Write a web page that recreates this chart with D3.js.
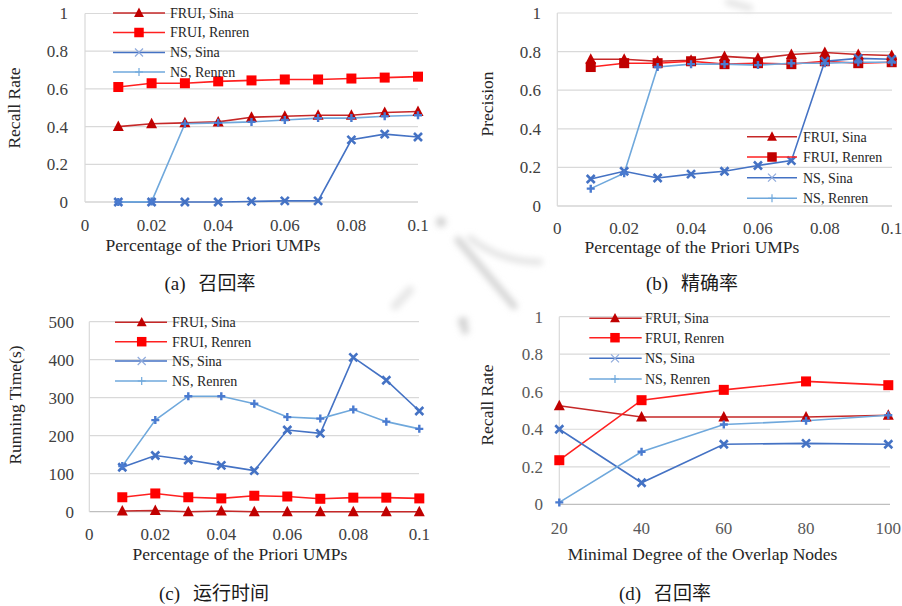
<!DOCTYPE html>
<html><head><meta charset="utf-8">
<script src="https://cdn.jsdelivr.net/npm/d3@7"></script>
<style>body{margin:0;background:#fff} svg{display:block}</style>
</head><body><svg id="c" width="902" height="606"></svg>
<script>
// ---------- data ----------
const seriesNames = ["FRUI, Sina", "FRUI, Renren", "NS, Sina", "NS, Renren"];
const pctX = [0.01, 0.02, 0.03, 0.04, 0.05, 0.06, 0.07, 0.08, 0.09, 0.1];
const pctTicks = [0, 0.02, 0.04, 0.06, 0.08, 0.1];
const pctTickLabels = ["0", "0.02", "0.04", "0.06", "0.08", "0.1"];
const rateTicks = [0, 0.2, 0.4, 0.6, 0.8, 1];
const rateTickLabels = ["0", "0.2", "0.4", "0.6", "0.8", "1"];
const timeTicks = [0, 100, 200, 300, 400, 500];
const timeTickLabels = ["0", "100", "200", "300", "400", "500"];
const degX = [20, 40, 60, 80, 100];
const degTicks = [20, 40, 60, 80, 100];
const degTickLabels = ["20", "40", "60", "80", "100"];

// (a) recall vs percentage
const recallFRUISina   = [0.40, 0.415, 0.42, 0.425, 0.45, 0.455, 0.46, 0.46, 0.475, 0.48];
const recallFRUIRenren = [0.61, 0.63, 0.63, 0.64, 0.645, 0.65, 0.65, 0.655, 0.66, 0.665];
const recallNSSina     = [0, 0, 0, 0, 0.003, 0.006, 0.006, 0.33, 0.36, 0.345];
const recallNSRenren   = [0, 0.002, 0.415, 0.42, 0.425, 0.435, 0.445, 0.445, 0.455, 0.46];
// (b) precision vs percentage
const precFRUISina   = [0.76, 0.76, 0.75, 0.755, 0.775, 0.765, 0.785, 0.795, 0.785, 0.78];
const precFRUIRenren = [0.72, 0.74, 0.74, 0.75, 0.735, 0.74, 0.735, 0.75, 0.74, 0.745];
const precNSSina     = [0.14, 0.18, 0.145, 0.165, 0.18, 0.21, 0.235, 0.75, 0.765, 0.76];
const precNSRenren   = [0.09, 0.17, 0.72, 0.735, 0.735, 0.73, 0.74, 0.74, 0.745, 0.745];
// (c) running time vs percentage
const timeFRUISina   = [2, 3, 0, 2, 0, 0, 0, 0, 0, 0];
const timeFRUIRenren = [38, 48, 38, 35, 42, 40, 34, 37, 37, 35];
const timeNSSina     = [117, 148, 136, 122, 108, 215, 206, 406, 346, 265];
const timeNSRenren   = [120, 241, 304, 304, 284, 249, 245, 269, 237, 218];
// (d) recall vs minimal degree
const degFRUISina   = [0.525, 0.465, 0.465, 0.465, 0.475];
const degFRUIRenren = [0.235, 0.555, 0.61, 0.655, 0.635];
const degNSSina     = [0.40, 0.115, 0.32, 0.325, 0.32];
const degNSRenren   = [0.01, 0.28, 0.425, 0.445, 0.475];

const xTitlePct = "Percentage of the Priori UMPs";
const xTitleDeg = "Minimal Degree of the Overlap Nodes";
const captionTags = ["(a)", "(b)", "(c)", "(d)"];
const captionTexts = ["召回率", "精确率", "运行时间", "召回率"];

// ---------- styles ----------
const SERIF = "'Liberation Serif','Times New Roman',serif";
const CJK = "'Noto Sans CJK SC','Noto Sans',sans-serif";
const styles = [
  {line: "#C62828", mark: "#C00000", legMark: "#C00000", shape: "tri"},
  {line: "#FF2020", mark: "#FF0000", legMark: "#FF0000", shape: "sq"},
  {line: "#4472C4", mark: "#4472C4", legMark: "#8FAADC", shape: "x"},
  {line: "#6FA8DC", mark: "#4A7BD0", legMark: "#6FA8DC", shape: "plus"}
];

const svg = d3.select("#c");

// faint background watermark strokes
const defs = svg.append("defs");
defs.append("filter").attr("id", "blur").append("feGaussianBlur").attr("stdDeviation", 3);
const wm = svg.append("g").attr("filter", "url(#blur)").attr("fill", "none")
  .attr("stroke", "#d4d4d4").attr("stroke-linecap", "round");
wm.append("path").attr("d", "M458,240L514,306").attr("stroke-width", 7);
wm.append("path").attr("d", "M470,238Q500,262 540,262").attr("stroke-width", 6).attr("stroke", "#e2e2e2");
wm.append("path").attr("d", "M395,306L410,290").attr("stroke-width", 8).attr("stroke", "#e6e6e6");
wm.append("path").attr("d", "M728,2L750,8").attr("stroke-width", 6).attr("stroke", "#e2e2e2");
[[441, 222, 5], [463, 322, 5], [465, 330, 4]].forEach(c =>
  wm.append("circle").attr("cx", c[0]).attr("cy", c[1]).attr("r", c[2]).attr("fill", "#d0d0d0").attr("stroke", "none"));

function marker(g, shape, cx, cy, color, s, legend) {
  if (shape === "tri") {
    g.append("path").attr("d", `M${cx},${cy - s * 0.6}L${cx + s * 0.55},${cy + s * 0.45}L${cx - s * 0.55},${cy + s * 0.45}Z`)
      .attr("fill", color);
  } else if (shape === "sq") {
    g.append("rect").attr("x", cx - s / 2).attr("y", cy - s / 2).attr("width", s).attr("height", s).attr("fill", color);
  } else if (shape === "x") {
    const h = s / 2;
    g.append("path").attr("d", `M${cx - h},${cy - h}L${cx + h},${cy + h}M${cx - h},${cy + h}L${cx + h},${cy - h}`)
      .attr("stroke", color).attr("stroke-width", legend ? 1.2 : 2.6).attr("fill", "none");
  } else {
    const h = s / 2;
    g.append("path").attr("d", `M${cx - h},${cy}L${cx + h},${cy}M${cx},${cy - h}L${cx},${cy + h}`)
      .attr("stroke", color).attr("stroke-width", legend ? 1.2 : 2.4).attr("fill", "none");
  }
}

const panels = [
  {x0: 85, x1: 418, yT: 13.5, yB: 202, xDom: [0, 0.1], yDom: [0, 1], xs: pctX,
   series: [recallFRUISina, recallFRUIRenren, recallNSSina, recallNSRenren],
   xTicks: pctTicks, xLabels: pctTickLabels, yTicks: rateTicks, yLabels: rateTickLabels,
   gridR: 418, yLabX: 68, xLabY: 230.5, tickColor: "#404040",
   xTitle: xTitlePct, xTitleX: 213, xTitleY: 251, yTitle: "Recall Rate", yTitleX: 14, yTitleY: 108,
   capX: 210, capY: 290, cap: 0,
   leg: {l: 113, r: 165, m: 139, t: 170, ys: [13, 32.5, 52.5, 72]}},
  {x0: 557.3, x1: 891.7, yT: 13, yB: 206, xDom: [0, 0.1], yDom: [0, 1], xs: pctX,
   series: [precFRUISina, precFRUIRenren, precNSSina, precNSRenren],
   xTicks: pctTicks, xLabels: pctTickLabels, yTicks: rateTicks, yLabels: rateTickLabels,
   gridR: 892, yLabX: 541, xLabY: 233.5, tickColor: "#404040", bg: true,
   xTitle: xTitlePct, xTitleX: 692, xTitleY: 253, yTitle: "Precision", yTitleX: 487, yTitleY: 104,
   capX: 692, capY: 290, cap: 1, sqMark: "#C00000",
   leg: {l: 747, r: 797, m: 772, t: 803, ys: [136.7, 157, 177.7, 198.3]}},
  {x0: 89.3, x1: 419.3, yT: 321.7, yB: 511.7, xDom: [0, 0.1], yDom: [0, 500], xs: pctX,
   series: [timeFRUISina, timeFRUIRenren, timeNSSina, timeNSRenren],
   xTicks: pctTicks, xLabels: pctTickLabels, yTicks: timeTicks, yLabels: timeTickLabels,
   gridR: 419, yLabX: 74, xLabY: 540, tickColor: "#404040",
   xTitle: xTitlePct, xTitleX: 240, xTitleY: 559.5, yTitle: "Running Time(s)", yTitleX: 15, yTitleY: 405,
   capX: 214, capY: 600, cap: 2,
   leg: {l: 115, r: 167, m: 141.7, t: 172, ys: [322.3, 341.7, 361, 381]}},
  {x0: 559.3, x1: 888.3, yT: 316.7, yB: 504.3, xDom: [20, 100], yDom: [0, 1], xs: degX,
   series: [degFRUISina, degFRUIRenren, degNSSina, degNSRenren],
   xTicks: degTicks, xLabels: degTickLabels, yTicks: rateTicks, yLabels: rateTickLabels,
   gridR: 890, yLabX: 543, xLabY: 533.5, tickColor: "#595959",
   xTitle: xTitleDeg, xTitleX: 702.5, xTitleY: 560, yTitle: "Recall Rate", yTitleX: 487.3, yTitleY: 405,
   capX: 665, capY: 600, cap: 3,
   leg: {l: 589.3, r: 641.7, m: 615, t: 645, ys: [318.3, 337.7, 358.3, 379]}}
];

panels.forEach(p => {
  const g = svg.append("g");
  const x = d3.scaleLinear().domain(p.xDom).range([p.x0, p.x1]);
  const y = d3.scaleLinear().domain(p.yDom).range([p.yB, p.yT]);

  // gridlines
  g.selectAll(".grid").data(p.yTicks).enter().append("line")
    .attr("x1", p.x0).attr("x2", p.gridR)
    .attr("y1", d => y(d)).attr("y2", d => y(d))
    .attr("stroke", (d, i) => i === 0 ? "#BFBFBF" : "#D9D9D9").attr("stroke-width", 1.2);
  g.append("line").attr("x1", p.x0).attr("x2", p.x0).attr("y1", p.yT).attr("y2", p.yB)
    .attr("stroke", "#D9D9D9").attr("stroke-width", 1.2);

  // y tick labels
  g.selectAll(".yl").data(p.yTicks).enter().append("text")
    .attr("x", p.yLabX).attr("y", d => y(d)).attr("dy", "0.35em")
    .attr("text-anchor", "end").attr("font-family", SERIF).attr("font-size", 17)
    .attr("fill", p.tickColor).text((d, i) => p.yLabels[i]);
  // x tick labels
  g.selectAll(".xl").data(p.xTicks).enter().append("text")
    .attr("x", d => x(d)).attr("y", p.xLabY)
    .attr("text-anchor", "middle").attr("font-family", SERIF).attr("font-size", 17)
    .attr("fill", p.tickColor).text((d, i) => p.xLabels[i]);

  // titles
  g.append("text").attr("x", p.xTitleX).attr("y", p.xTitleY).attr("text-anchor", "middle")
    .attr("font-family", SERIF).attr("font-size", 17.5).attr("fill", "#262626").text(p.xTitle);
  g.append("text").attr("transform", `translate(${p.yTitleX},${p.yTitleY}) rotate(-90)`)
    .attr("text-anchor", "middle").attr("dy", "0.35em")
    .attr("font-family", SERIF).attr("font-size", 17.5).attr("fill", "#262626").text(p.yTitle);

  // caption
  const cap = g.append("text").attr("x", p.capX).attr("y", p.capY).attr("text-anchor", "middle")
    .attr("font-size", 19).attr("fill", "#1a1a1a");
  cap.append("tspan").attr("font-family", SERIF).text(captionTags[p.cap]);
  cap.append("tspan").attr("font-family", CJK).attr("dx", 13).text(captionTexts[p.cap]);

  // lines
  const line = d3.line().x((d, i) => x(p.xs[i])).y(d => y(d));
  p.series.forEach((s, k) => {
    g.append("path").datum(s).attr("d", line).attr("fill", "none")
      .attr("stroke", styles[k].line).attr("stroke-width", 1.6);
  });
  // markers
  p.series.forEach((s, k) => {
    const col = (k === 1 && p.sqMark) ? p.sqMark : styles[k].mark;
    const size = styles[k].shape === "sq" ? 10 : (styles[k].shape === "tri" ? 10 : 8);
    s.forEach((v, i) => marker(g, styles[k].shape, x(p.xs[i]), y(v), col, size, false));
  });

  // legend
  seriesNames.forEach((n, k) => {
    const ly = p.leg.ys[k];
    g.append("line").attr("x1", p.leg.l).attr("x2", p.leg.r).attr("y1", ly).attr("y2", ly)
      .attr("stroke", styles[k].line).attr("stroke-width", 1.6);
    const col = (k === 1 && p.sqMark) ? p.sqMark : styles[k].legMark;
    const size = styles[k].shape === "sq" ? 9.5 : (styles[k].shape === "tri" ? 9 : 8);
    marker(g, styles[k].shape, p.leg.m, ly, col, size, true);
    g.append("text").attr("x", p.leg.t).attr("y", ly).attr("dy", "0.35em")
      .attr("font-family", SERIF).attr("font-size", 14).attr("fill", "#262626").text(n);
  });
});
</script>
</body></html>
